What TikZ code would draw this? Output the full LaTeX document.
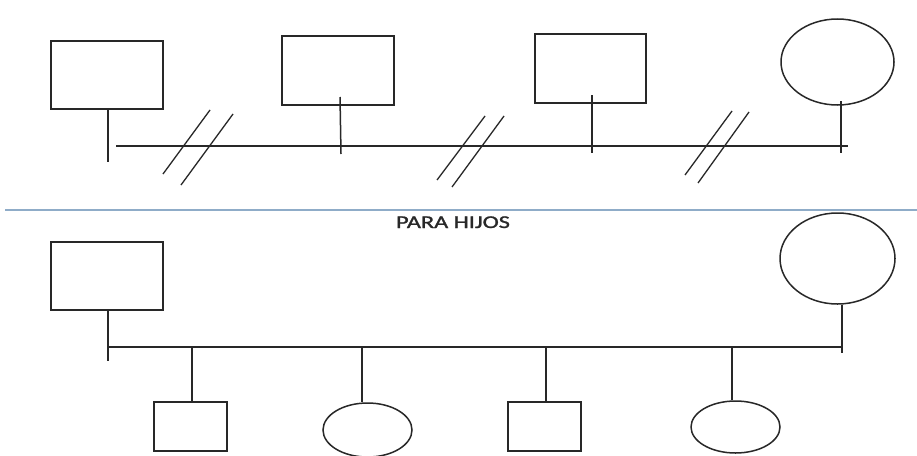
\documentclass[tikz,border=0pt]{standalone}
\usepackage{fontspec}
\setmainfont{Carlito}
\newfontfamily\labelfont[FakeBold=1.2]{Carlito}
\usetikzlibrary{shapes.geometric}
\definecolor{ink}{RGB}{40,40,40}
\definecolor{divider}{RGB}{143,172,200}
\tikzset{
  male/.style={draw=ink, line width=1.5pt, rectangle, inner sep=0pt},
  female/.style={draw=ink, line width=1.5pt, ellipse, inner sep=0pt},
  link/.style={draw=ink, line width=1.5pt},
  cut/.style={draw=ink, line width=1.3pt},
  sep/.style={draw=divider, line width=1.8pt},
  label/.style={text=ink, font=\labelfont\fontsize{18}{20}\selectfont, anchor=base, inner sep=0pt, xscale=1.35}
}
\begin{document}
\begin{tikzpicture}[x=1pt,y=-1pt]
\useasboundingbox (0,0) rectangle (917,455);
\clip (0,0) rectangle (917,455);
\fill[white] (0,0) rectangle (917,455);

% ---------- top row ----------
\node[male, minimum width=112pt, minimum height=68pt] (a1) at (107,75) {};
\node[male, minimum width=112pt, minimum height=69pt] (a2) at (338,70.5) {};
\node[male, minimum width=111pt, minimum height=69pt] (a3) at (590.5,68.5) {};
\node[female, minimum width=113pt, minimum height=86pt] (a4) at (837.5,62) {};

\coordinate (hL) at (116,146);
\coordinate (hR) at (848,146);
\draw[link] (hL) -- (hR);

\coordinate (d1) at (108,162);
\coordinate (u2) at (340,97);  \coordinate (d2) at (341,154);
\coordinate (u3) at (592,95);  \coordinate (d3) at (592,153);
\coordinate (u4) at (841,101); \coordinate (d4) at (841,153);
\draw[link] (a1.south -| d1) -- (d1);
\draw[link] (u2) -- (d2);
\draw[link] (u3) -- (d3);
\draw[link] (u4) -- (d4);

% divorce slashes
\coordinate (s1a) at (163,174); \coordinate (s1b) at (210,110);
\coordinate (s1c) at (181,185); \coordinate (s1d) at (233,114);
\coordinate (s2a) at (437,180); \coordinate (s2b) at (485,116);
\coordinate (s2c) at (452,187); \coordinate (s2d) at (504,116);
\coordinate (s3a) at (685,175); \coordinate (s3b) at (732,111);
\coordinate (s3c) at (698,183); \coordinate (s3d) at (749,112);
\draw[cut] (s1a) -- (s1b);
\draw[cut] (s1c) -- (s1d);
\draw[cut] (s2a) -- (s2b);
\draw[cut] (s2c) -- (s2d);
\draw[cut] (s3a) -- (s3b);
\draw[cut] (s3c) -- (s3d);

% ---------- divider ----------
\coordinate (lineL) at (5,210);
\coordinate (lineR) at (917,210);
\draw[sep] (lineL) -- (lineR);
\node[label] (title) at (453,228) {PARA HIJOS};

% ---------- bottom row ----------
\node[male, minimum width=112pt, minimum height=68pt] (b1) at (107,276) {};
\node[female, minimum width=115pt, minimum height=91pt] (b2) at (837.5,258.5) {};

\coordinate (bL) at (108,347);
\coordinate (bR) at (842,347);
\coordinate (bLd) at (108,361);
\coordinate (bRd) at (842,353);
\draw[link] (bL) -- (bR);
\draw[link] (b1.south -| bLd) -- (bLd);
\draw[link] (b2.south -| bRd) -- (bRd);

\node[male, minimum width=73pt, minimum height=49pt] (c1) at (190.5,426.5) {};
\node[female, minimum width=89pt, minimum height=54pt] (c2) at (367.5,430) {};
\node[male, minimum width=73pt, minimum height=49pt] (c3) at (544.5,426.5) {};
\node[female, minimum width=89pt, minimum height=52pt] (c4) at (735.5,427) {};

\coordinate (t1) at (192,347);
\coordinate (t2) at (362,347);
\coordinate (t3) at (546,347);
\coordinate (t4) at (732,347);
\draw[link] (t1) -- (c1.north -| t1);
\draw[link] (t2) -- (c2.north -| t2);
\draw[link] (t3) -- (c3.north -| t3);
\draw[link] (t4) -- (c4.north -| t4);
\end{tikzpicture}
\end{document}
